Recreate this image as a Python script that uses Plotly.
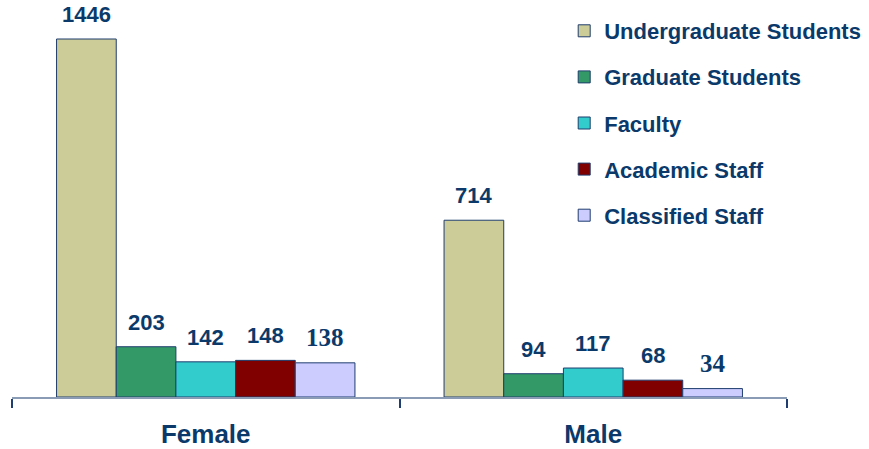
import plotly.graph_objects as go

categories = ["Female", "Male"]
series_names = ["Undergraduate Students", "Graduate Students", "Faculty",
                "Academic Staff", "Classified Staff"]
undergrad = [1446, 714]
graduate = [203, 94]
faculty = [142, 117]
academic = [148, 68]
classified = [138, 34]
series_values = [undergrad, graduate, faculty, academic, classified]
colors = ["#CCCC99", "#339966", "#33CCCC", "#800000", "#CCCCFF"]
label_fonts = ["Liberation Sans", "Liberation Sans", "Liberation Sans",
               "Liberation Sans", "Liberation Serif"]
label_sizes = [22, 22, 22, 22, 25]

W, H = 869, 449
ml, mr, mt, mb = 12, 82, 10, 52
bargap = 0.23
navy = "#0B3A6A"

fig = go.Figure()
for name, vals, col in zip(series_names, series_values, colors):
    fig.add_trace(go.Bar(
        name=name, x=categories, y=vals, legendgroup=name,
        marker=dict(color=col, line=dict(color="#1F3D6E", width=1)),
    ))

# value labels
plot_w = W - ml - mr
cat_px = plot_w / len(categories)
bar_px = cat_px * (1 - bargap) / len(series_names)
n = len(series_names)
for i, (vals, fam, sz) in enumerate(zip(series_values, label_fonts, label_sizes)):
    for c, v in zip(categories, vals):
        fig.add_annotation(
            x=c, y=v, text=str(v), showarrow=False,
            xshift=(i - (n - 1) / 2) * bar_px, yshift=10,
            yanchor="bottom",
            font=dict(family=fam, size=sz, color=navy, weight="bold"),
        )

ymax = (H - mt - mb) / (358 / 1446)
fig.update_layout(
    width=W, height=H,
    margin=dict(l=ml, r=mr, t=mt, b=mb, autoexpand=False),
    paper_bgcolor="white", plot_bgcolor="white",
    barmode="group", bargap=bargap, bargroupgap=0,
    showlegend=True,
    legend=dict(
        x=0.7125, y=1.0, xanchor="left", yanchor="top",
        font=dict(family="Liberation Sans", size=22, color=navy, weight="bold"),
        tracegroupgap=14.5, bgcolor="rgba(0,0,0,0)",
    ),
    xaxis=dict(
        type="category", range=[-0.5, len(categories) - 0.5],
        showline=True, linecolor="#8A9BB5", linewidth=1.5,
        ticks="outside", tickson="boundaries", ticklen=9, tickwidth=1.5,
        tickcolor="#1F3D6E", ticklabelstandoff=13,
        tickfont=dict(family="Liberation Sans", size=26, color=navy, weight="bold"),
        showgrid=False, zeroline=False,
    ),
    yaxis=dict(range=[0, ymax], visible=False, showgrid=False, zeroline=False),
)

fig.write_html("out.html", config={"displayModeBar": False},
               post_script="document.body.style.margin='0';")
